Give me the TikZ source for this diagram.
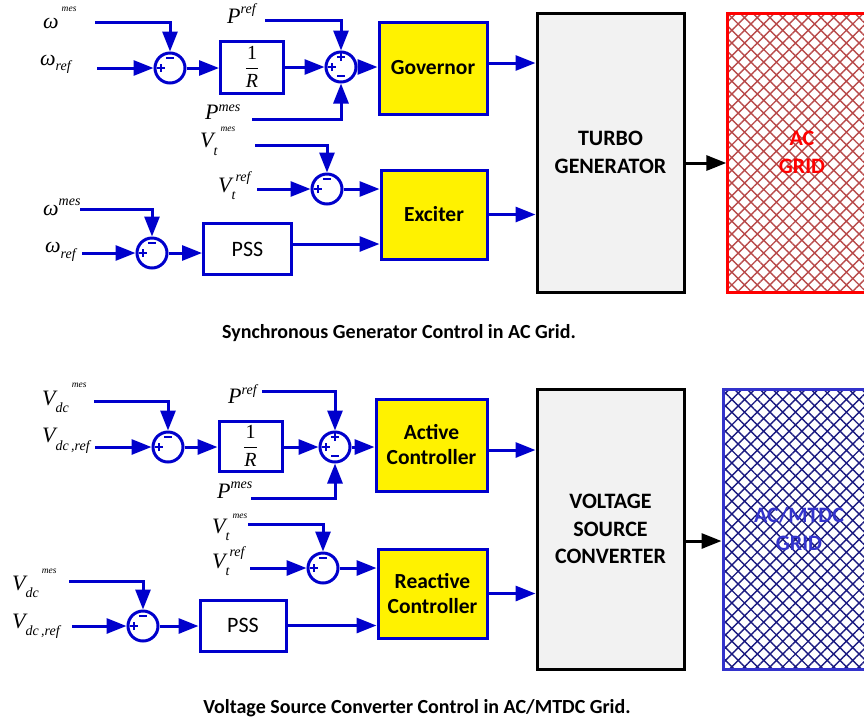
\documentclass[tikz,border=0pt]{standalone}
\usepackage{fontspec}
\setmainfont{Carlito}
\newfontfamily\tnr{Liberation Serif}
\usetikzlibrary{arrows.meta,patterns.meta}
\definecolor{sigblue}{HTML}{0000CC}
\definecolor{boxgray}{HTML}{F2F2F2}
\definecolor{acpat}{HTML}{B84A4A}
\definecolor{dcpat}{HTML}{1A1A80}
\definecolor{dcblue}{HTML}{3333CC}
% italic Times labels: main letter, scripts (raise, text)
\newcommand{\mv}[1]{{\tnr\itshape\fontsize{22}{22}\selectfont #1}}
\newcommand{\ms}[2]{\raisebox{#1}{\tnr\itshape\fontsize{14}{14}\selectfont #2}}
\newcommand{\mt}[2]{\raisebox{#1}{\tnr\itshape\fontsize{9.5}{9.5}\selectfont #2}}
\newcommand{\invR}{{\tnr\fontsize{20}{20}\selectfont$\displaystyle\frac{\mbox{1}}{\mbox{\itshape R}}$}}
\begin{document}
\begin{tikzpicture}[x=1pt,y=-1pt,
  lbl/.style={anchor=base west,inner sep=0pt},
  sumj/.style={circle,draw=sigblue,line width=3pt,fill=white,minimum size=30pt,inner sep=0pt},
  gain/.style={draw=sigblue,line width=3pt,fill=white,inner sep=0pt,font=\fontsize{22}{22}\selectfont},
  ctrl/.style={draw=sigblue,line width=3pt,fill=yellow,inner sep=0pt,align=center,font=\fontsize{21.5}{25}\selectfont\bfseries},
  plant/.style={draw=black,line width=3pt,fill=boxgray,inner sep=0pt,align=center,font=\fontsize{22}{27.5}\selectfont\bfseries},
  gridbox/.style={line width=3pt,inner sep=0pt,align=center,font=\fontsize{22}{28}\selectfont\bfseries,
    pattern={Hatch[angle=45,distance=9pt,line width=1.4pt]}},
  sig/.style={draw=sigblue,line width=3pt,-{Triangle[length=20pt,width=15pt]}},
  pwr/.style={draw=black,line width=3pt,-{Triangle[length=20pt,width=15pt]}},
  sgn/.style={draw=sigblue,line width=2.4pt},
  sumplus/.pic={\draw[sgn] (-4pt,0pt) -- (4pt,0pt) (0pt,-4pt) -- (0pt,4pt);},
  summinus/.pic={\draw[sgn] (-4pt,0pt) -- (4pt,0pt);},
  caption/.style={font=\fontsize{20}{20}\selectfont\bfseries}]
\useasboundingbox (0,0) rectangle (864,724);
% synchronous generator (top)
\begin{scope}
\node[lbl] (lwmes1) at (43,28) {\mv{ω}\hspace{3pt}\mt{17pt}{mes}};
\node[lbl] (lwref1) at (40,65) {\mv{ω}\ms{-5pt}{ref}};
\node[lbl] (lpref1) at (227,23) {\mv{P}\ms{10pt}{ref}};
\node[lbl] (lpmes1) at (205,119) {\mv{P}\ms{8pt}{mes}};
\node[lbl] (lvtmes1) at (200,147) {\mv{V}\ms{-8pt}{t}\hspace{3pt}\mt{16pt}{mes}};
\node[lbl] (lvtref1) at (218,192) {\mv{V}\ms{-7pt}{t}\ms{11pt}{ref}};
\node[lbl] (lwmes2) at (43,215) {\mv{ω}\ms{10pt}{mes}};
\node[lbl] (lwref2) at (45,252) {\mv{ω}\ms{-6pt}{ref}};
\coordinate (iwmes1) at (95,22);
\coordinate (iwref1) at (97,68);
\coordinate (ipref1) at (265,20);
\coordinate (ipmes1) at (252,119);
\coordinate (ivtmes1) at (255,145);
\coordinate (ivtref1) at (257,189);
\coordinate (iwmes2) at (80,209);
\coordinate (iwref2) at (82,253);
\node[sumj] (s1) at (170,68) {};
\node[gain,minimum width=63pt,minimum height=52pt] (g1) at (252,67) {\invR};
\node[sumj] (s2) at (341,67) {};
\node[ctrl,minimum width=108pt,minimum height=92pt] (gov) at (433,68) {Governor};
\node[sumj] (s3) at (327,189) {};
\node[sumj] (s4) at (152,253) {};
\node[gain,minimum width=88pt,minimum height=51pt] (pss1) at (247.5,249) {PSS};
\node[ctrl,minimum width=106pt,minimum height=89pt] (exc) at (434,214.5) {Exciter};
\node[plant,minimum width=147pt,minimum height=279pt] (turbo) at (610.5,152.5) {TURBO\\GENERATOR};
\node[gridbox,draw=red,text=red,pattern color=acpat,minimum width=150pt,minimum height=279pt] (acgrid) at (802,152.5) {AC\\GRID};
\pic at ([yshift=10pt]s1.center) {summinus}; \pic at ([xshift=-9pt]s1.center) {sumplus};
\pic at ([yshift=10pt]s2.center) {sumplus}; \pic at ([xshift=-9pt]s2.center) {sumplus};
\pic at ([yshift=-9pt]s2.center) {summinus};
\pic at ([yshift=10pt]s3.center) {summinus}; \pic at ([xshift=-9pt]s3.center) {sumplus};
\pic at ([yshift=10pt]s4.center) {summinus}; \pic at ([xshift=-9pt]s4.center) {sumplus};
\draw[sig] (iwmes1) -| (s1.north);
\draw[sig] (iwref1) -- (s1.west);
\draw[sig] (s1.east) -- (s1.east -| g1.west);
\draw[sig] (g1.east |- s2) -- (s2.west);
\draw[sig] (ipref1) -| (s2.north);
\draw[sig] (ipmes1) -| (s2.south);
\draw[sig] (s2.east) -- (s2.east -| gov.west);
\draw[sig] ([yshift=5pt]gov.east) -- ([yshift=5pt]gov.east -| turbo.west);
\draw[sig] (ivtmes1) -| (s3.north);
\draw[sig] (ivtref1) -- (s3.west);
\draw[sig] (s3.east) -- (s3.east -| exc.west);
\draw[sig] (iwmes2) -| (s4.north);
\draw[sig] (iwref2) -- (s4.west);
\draw[sig] (s4.east) -- (s4.east -| pss1.west);
\draw[sig] ([yshift=5pt]pss1.east) -- ([yshift=5pt]pss1.east -| exc.west);
\draw[sig] (exc.east) -- (exc.east -| turbo.west);
\draw[pwr] ([yshift=-10.5pt]turbo.east) -- ([yshift=-10.5pt]turbo.east -| acgrid.west);
\node[caption] (cap1) at (399,333) {Synchronous Generator Control in AC Grid.};
\end{scope}
% voltage source converter (bottom)
\begin{scope}
\node[lbl] (lvdcmes1) at (42,405) {\mv{V}\ms{-7pt}{dc}\hspace{3pt}\mt{18pt}{mes}};
\node[lbl] (lvdcref1) at (42,442) {\mv{V}\ms{-8pt}{dc\,,ref}};
\node[lbl] (lpref2) at (228,403) {\mv{P}\ms{9pt}{ref}};
\node[lbl] (lpmes2) at (217,498) {\mv{P}\ms{10pt}{mes}};
\node[lbl] (lvtmes2) at (212,533) {\mv{V}\ms{-7pt}{t}\hspace{3pt}\mt{15pt}{mes}};
\node[lbl] (lvtref2) at (212,568) {\mv{V}\ms{-7pt}{t}\ms{12pt}{ref}};
\node[lbl] (lvdcmes2) at (12,590) {\mv{V}\ms{-7pt}{dc}\hspace{3pt}\mt{17pt}{mes}};
\node[lbl] (lvdcref2) at (12,628) {\mv{V}\ms{-7pt}{dc\,,ref}};
\coordinate (ivdcmes1) at (94,401);
\coordinate (ivdcref1) at (95,447);
\coordinate (ipref2) at (262,391);
\coordinate (ipmes2) at (251,498);
\coordinate (ivtmes2) at (248,524);
\coordinate (ivtref2) at (250,568);
\coordinate (ivdcmes2) at (69,581);
\coordinate (ivdcref2) at (72,626);
\node[sumj] (s5) at (168,447) {};
\node[gain,minimum width=63pt,minimum height=50pt] (g2) at (250.5,446) {\invR};
\node[sumj] (s6) at (335,447) {};
\node[ctrl,minimum width=111pt,minimum height=92pt] (act) at (431.5,445) {Active\\Controller};
\node[sumj] (s7) at (323,568) {};
\node[sumj] (s8) at (143,626) {};
\node[gain,minimum width=86pt,minimum height=51pt] (pss2) at (243,625.5) {PSS};
\node[ctrl,minimum width=109pt,minimum height=89pt] (rea) at (432.5,593.5) {Reactive\\Controller};
\node[plant,minimum width=147pt,minimum height=280pt] (vsc) at (610.5,529) {VOLTAGE\\SOURCE\\CONVERTER};
\node[gridbox,draw=dcblue,text=dcblue,pattern color=dcpat,minimum width=152pt,minimum height=280pt] (dcgrid) at (799,529) {AC/MTDC\\GRID};
\pic at ([yshift=10pt]s5.center) {summinus}; \pic at ([xshift=-9pt]s5.center) {sumplus};
\pic at ([yshift=10pt]s6.center) {sumplus}; \pic at ([xshift=-9pt]s6.center) {sumplus};
\pic at ([yshift=-9pt]s6.center) {summinus};
\pic at ([yshift=10pt]s7.center) {summinus}; \pic at ([xshift=-9pt]s7.center) {sumplus};
\pic at ([yshift=10pt]s8.center) {summinus}; \pic at ([xshift=-9pt]s8.center) {sumplus};
\draw[sig] (ivdcmes1) -| (s5.north);
\draw[sig] (ivdcref1) -- (s5.west);
\draw[sig] (s5.east) -- (s5.east -| g2.west);
\draw[sig] (g2.east |- s6) -- (s6.west);
\draw[sig] (ipref2) -| (s6.north);
\draw[sig] (ipmes2) -| (s6.south);
\draw[sig] (s6.east) -- (s6.east -| act.west);
\draw[sig] ([yshift=-5pt]act.east) -- ([yshift=-5pt]act.east -| vsc.west);
\draw[sig] (ivtmes2) -| (s7.north);
\draw[sig] (ivtref2) -- (s7.west);
\draw[sig] (s7.east) -- (s7.east -| rea.west);
\draw[sig] (ivdcmes2) -| (s8.north);
\draw[sig] (ivdcref2) -- (s8.west);
\draw[sig] (s8.east) -- (s8.east -| pss2.west);
\draw[sig] (pss2.east) -- (pss2.east -| rea.west);
\draw[sig] (rea.east) -- (rea.east -| vsc.west);
\draw[pwr] ([yshift=-12pt]vsc.east) -- ([yshift=-12pt]vsc.east -| dcgrid.west);
\node[caption] (cap2) at (417,708) {Voltage Source Converter Control in AC/MTDC Grid.};
\end{scope}
\end{tikzpicture}
\end{document}
